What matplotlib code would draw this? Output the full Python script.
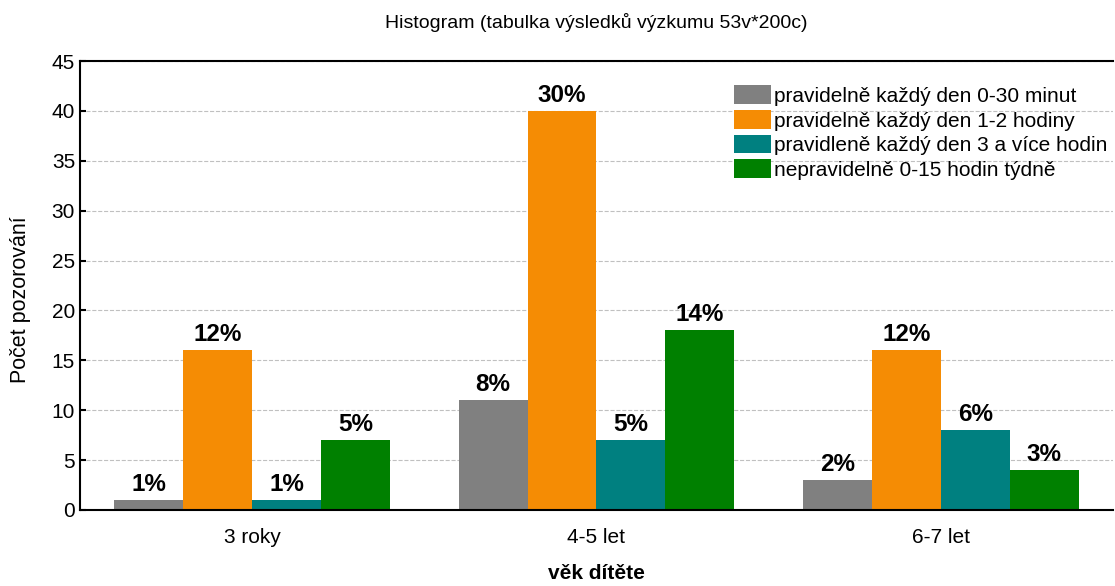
import numpy as np
import matplotlib.pyplot as plt

plt.rcParams['font.family'] = ['Liberation Sans', 'DejaVu Sans']

groups = ['3 roky', '4-5 let', '6-7 let']
series = ['pravidelně každý den 0-30 minut',
          'pravidelně každý den 1-2 hodiny',
          'pravidleně každý den 3 a více hodin',
          'nepravidelně 0-15 hodin týdně']
counts = [[1, 11, 3],
          [16, 40, 16],
          [1, 7, 8],
          [7, 18, 4]]
pct_labels = [['1%', '8%', '2%'],
              ['12%', '30%', '12%'],
              ['1%', '5%', '6%'],
              ['5%', '14%', '3%']]
colors = ['#808080', '#F58C04', '#008080', '#008000']

fig = plt.figure(figsize=(11.15, 5.86), dpi=100)
ax = fig.add_axes([0.0717, 0.1297, 0.9265, 0.766])

x = np.arange(len(groups))
w = 0.2
for i in range(len(series)):
    pos = x + (i - 1.5) * w
    bars = ax.bar(pos, counts[i], width=w, color=colors[i], label=series[i], zorder=2)
    for b, lab in zip(bars, pct_labels[i]):
        ax.text(b.get_x() + b.get_width() / 2, b.get_height() + 0.4, lab,
                ha='center', va='bottom', fontsize=17.5, fontweight='bold')

ax.set_xlim(-0.5, 2.5)
ax.set_ylim(0, 45)
ax.set_yticks(range(0, 46, 5))
ax.set_xticks(x)
ax.set_xticklabels(groups)
ax.tick_params(direction='in', labelsize=15, length=4, width=1.5)
ax.tick_params(axis='x', pad=13)
ax.yaxis.grid(True, linestyle='--', color='#c0c0c0', linewidth=0.8, zorder=0)
ax.set_axisbelow(True)
for s in ax.spines.values():
    s.set_linewidth(1.5)
ax.spines['right'].set_visible(False)

ax.set_title('Histogram (tabulka výsledků výzkumu 53v*200c)', fontsize=14, pad=24)
ax.set_xlabel('věk dítěte', fontsize=15, fontweight='bold', labelpad=12)
ax.set_ylabel('Počet pozorování', fontsize=15.5)
ax.yaxis.set_label_coords(-0.047, 0.468)

ax.legend(loc='upper right', bbox_to_anchor=(0.999, 0.955), frameon=False, fontsize=15,
          handlelength=1.8, handleheight=1.0, handletextpad=0.15, labelspacing=0.2,
          borderaxespad=0, borderpad=0.2)

fig.savefig('out.png', dpi=100)
